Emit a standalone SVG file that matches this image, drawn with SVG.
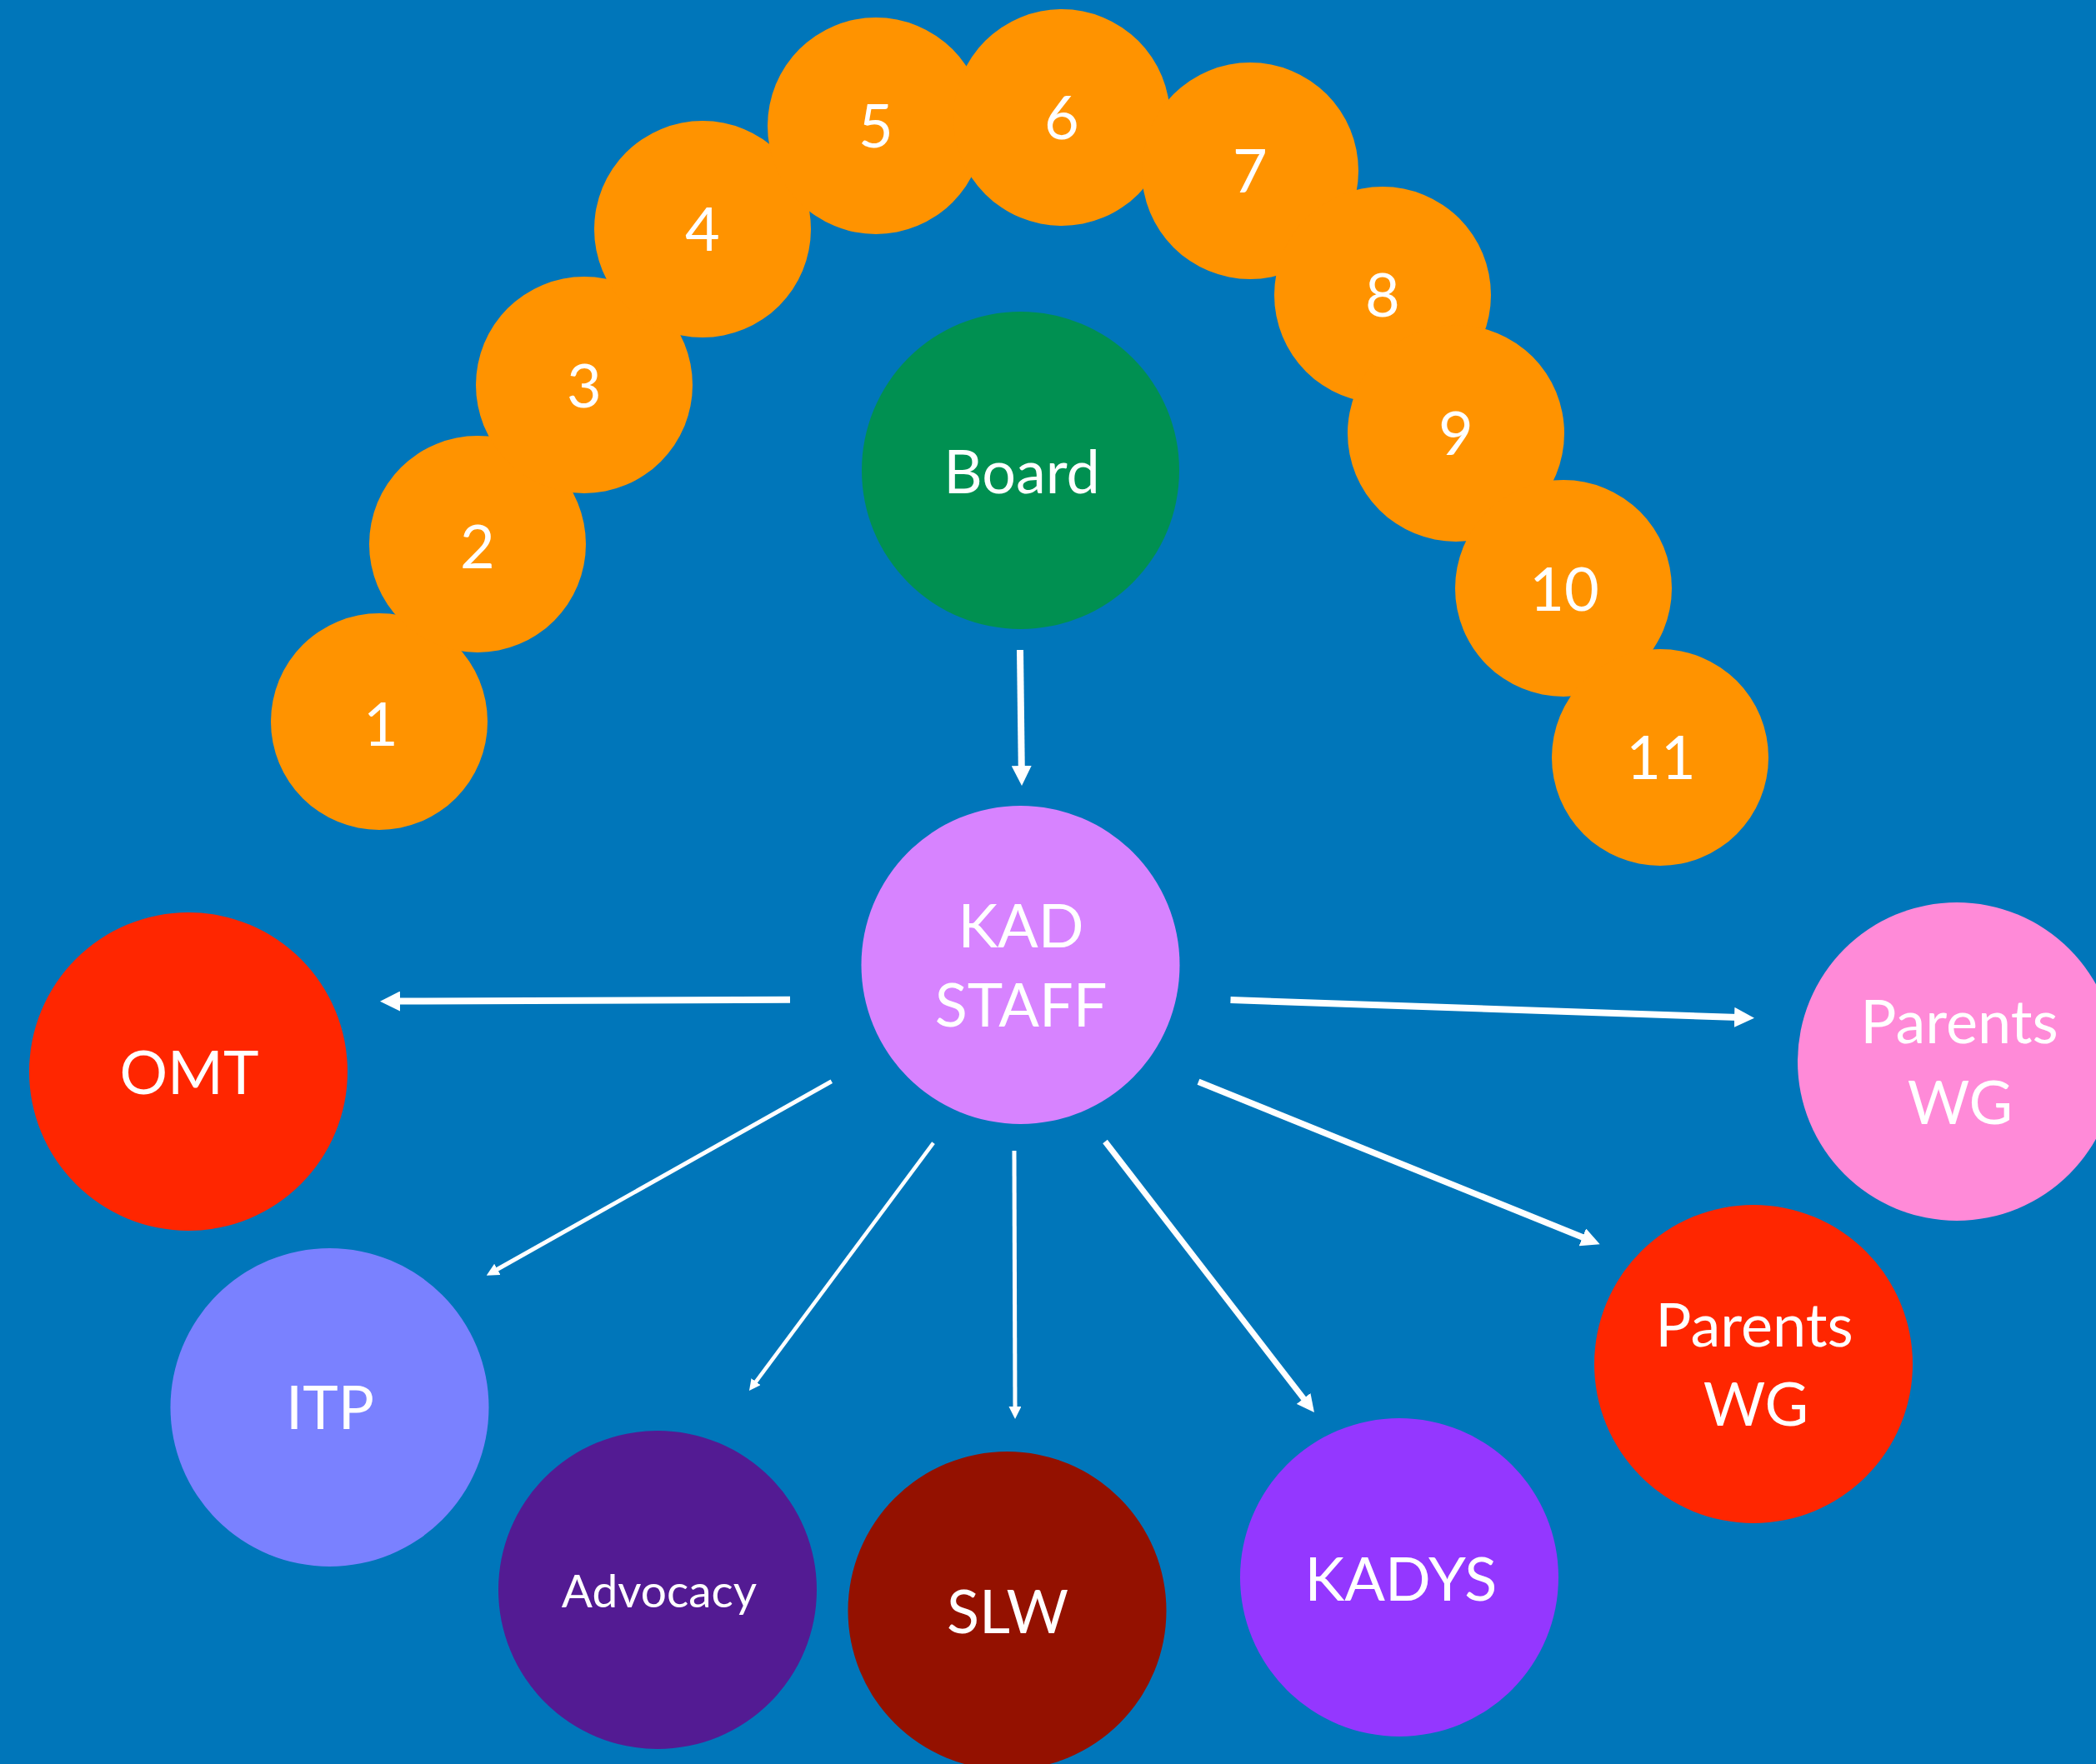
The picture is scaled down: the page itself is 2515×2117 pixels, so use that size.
<svg xmlns="http://www.w3.org/2000/svg" width="2515" height="2117" viewBox="0 0 2515 2117">
  <defs>
    <style>
      .bead { fill: #FF9300; }
      .lbl { fill: #FFFFFF; font-family: Lato, "Liberation Sans", sans-serif; font-size: 72px; text-anchor: middle; }
      .small { font-size: 55px; }
      .link { stroke: #FFFFFF; fill: none; stroke-linecap: butt; marker-end: url(#head); }
    </style>
    <marker id="head" viewBox="0 0 10 10" refX="2" refY="5" markerWidth="3" markerHeight="3" markerUnits="strokeWidth" orient="auto">
      <path d="M0,0 L10,5 L0,10 z" fill="#FFFFFF"/>
    </marker>
  </defs>

  <!-- background -->
  <rect x="0" y="0" width="2515" height="2117" fill="#0076BA"/>

  <!-- arc of numbered beads -->
  <g id="bead-1"><circle class="bead" cx="455" cy="866" r="130"/><text class="lbl" x="457" y="895">1</text></g>
  <g id="bead-2"><circle class="bead" cx="573" cy="653" r="130"/><text class="lbl" x="573" y="682">2</text></g>
  <g id="bead-3"><circle class="bead" cx="701" cy="462" r="130"/><text class="lbl" x="701" y="489">3</text></g>
  <g id="bead-4"><circle class="bead" cx="843" cy="275" r="130"/><text class="lbl" x="843" y="301">4</text></g>
  <g id="bead-5"><circle class="bead" cx="1051" cy="151" r="130"/><text class="lbl" x="1051" y="177">5</text></g>
  <g id="bead-6"><circle class="bead" cx="1274" cy="141" r="130"/><text class="lbl" x="1274" y="167">6</text></g>
  <g id="bead-7"><circle class="bead" cx="1500" cy="205" r="130"/><text class="lbl" x="1500" y="231">7</text></g>
  <g id="bead-8"><circle class="bead" cx="1659" cy="354" r="130"/><text class="lbl" x="1659" y="380">8</text></g>
  <g id="bead-9"><circle class="bead" cx="1747" cy="520" r="130"/><text class="lbl" x="1747" y="546">9</text></g>
  <g id="bead-10"><circle class="bead" cx="1876" cy="706" r="130"/><text class="lbl" x="1877" y="733">10</text></g>
  <g id="bead-11"><circle class="bead" cx="1992" cy="909" r="130"/><text class="lbl" x="1993" y="935">11</text></g>

  <!-- organisation nodes -->
  <g id="board"><circle cx="1224.5" cy="564.5" r="190.5" fill="#009051"/><text class="lbl" x="1226" y="592">Board</text></g>
  <g id="kad-staff"><circle cx="1224.5" cy="1158" r="191" fill="#D783FF"/><text class="lbl" x="1225" y="1137">KAD</text><text class="lbl" x="1225" y="1232">STAFF</text></g>
  <g id="omt"><circle cx="226" cy="1286" r="191" fill="#FF2600"/><text class="lbl" x="227" y="1313">OMT</text></g>
  <g id="itp"><circle cx="395.5" cy="1689" r="191" fill="#7A81FF"/><text class="lbl" x="396" y="1715">ITP</text></g>
  <g id="advocacy"><circle cx="789" cy="1908" r="191" fill="#531B93"/><text class="lbl small" x="791" y="1929">Advocacy</text></g>
  <g id="slw"><circle cx="1208.5" cy="1933" r="191" fill="#941100"/><text class="lbl" x="1209" y="1960">SLW</text></g>
  <g id="kadys"><circle cx="1679" cy="1893" r="191" fill="#9437FF"/><text class="lbl" x="1681" y="1921">KADYS</text></g>
  <g id="parents-wg-red"><circle cx="2104" cy="1637" r="191" fill="#FF2600"/><text class="lbl" x="2105" y="1616">Parents</text><text class="lbl" x="2107" y="1711">WG</text></g>
  <g id="parents-wg-pink"><circle cx="2348" cy="1274" r="191" fill="#FF8AD8"/><text class="lbl" x="2351" y="1252">Parents</text><text class="lbl" x="2352" y="1349">WG</text></g>

  <!-- connectors -->
  <g id="connectors">
    <line class="link" x1="1224" y1="780" x2="1225.8" y2="923.8" stroke-width="8"/>
    <line class="link" x1="948" y1="1199.7" x2="475.2" y2="1201.6" stroke-width="8"/>
    <line class="link" x1="997.8" y1="1297.7" x2="594.2" y2="1524.8" stroke-width="5"/>
    <line class="link" x1="1120" y1="1371.7" x2="905.4" y2="1660.3" stroke-width="4.5"/>
    <line class="link" x1="1217" y1="1381" x2="1218" y2="1691" stroke-width="5"/>
    <line class="link" x1="1326" y1="1370" x2="1566.7" y2="1681.7" stroke-width="7"/>
    <line class="link" x1="1438" y1="1298.3" x2="1903" y2="1486.5" stroke-width="7.5"/>
    <line class="link" x1="1476.5" y1="1200" x2="2085.8" y2="1221" stroke-width="8"/>
  </g>
</svg>
